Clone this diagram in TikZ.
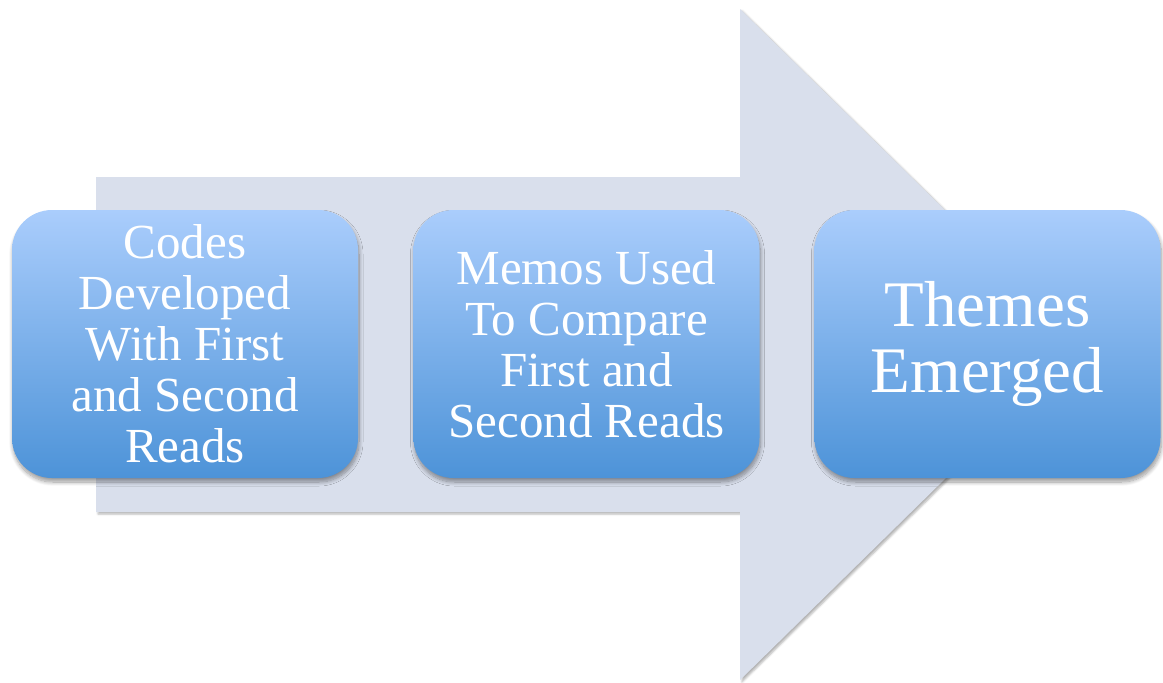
\documentclass[tikz,border=0pt]{standalone}
\usepackage{fontspec}
\setmainfont{Liberation Serif}
\usetikzlibrary{shadows.blur}
\definecolor{arrowfill}{RGB}{217,223,236}
\definecolor{boxtop}{RGB}{170,205,252}
\definecolor{boxbottom}{RGB}{77,147,216}
\tikzset{
  stagebox/.style={
    rectangle, rounded corners=40pt,
    minimum width=346pt, minimum height=268pt,
    top color=boxtop, bottom color=boxbottom, draw=none,
    text=white, align=center, inner sep=0pt,
    font=\fontsize{49}{51}\selectfont,
    blur shadow={shadow xshift=1pt, shadow yshift=-4pt,
                 shadow blur radius=4pt, shadow blur steps=10,
                 shadow opacity=40}
  },
  bigtext/.style={font=\fontsize{65}{66}\selectfont},
  bigarrow/.style={
    fill=arrowfill, draw=none,
    blur shadow={shadow xshift=2pt, shadow yshift=-2pt,
                 shadow blur radius=2pt, shadow opacity=30}
  }
}
\begin{document}
\begin{tikzpicture}[x=1pt, y=-1pt]
  \useasboundingbox (0,0) rectangle (1163,683);
  % background process arrow
  \path[bigarrow] (96,177) -- (740,177) -- (740,9) -- (1082,344.5)
        -- (740,680) -- (740,512) -- (96,512) -- cycle;
  % stages
  \node[stagebox] (codes) at (185,344)
    {Codes\\Developed\\With First\\and Second\\Reads};
  \node[stagebox] (memos) at (586.5,344)
    {Memos Used\\To Compare\\First and\\Second Reads};
  \node[stagebox, bigtext] (themes) at (987.5,344)
    {Themes\\Emerged};
\end{tikzpicture}
\end{document}
